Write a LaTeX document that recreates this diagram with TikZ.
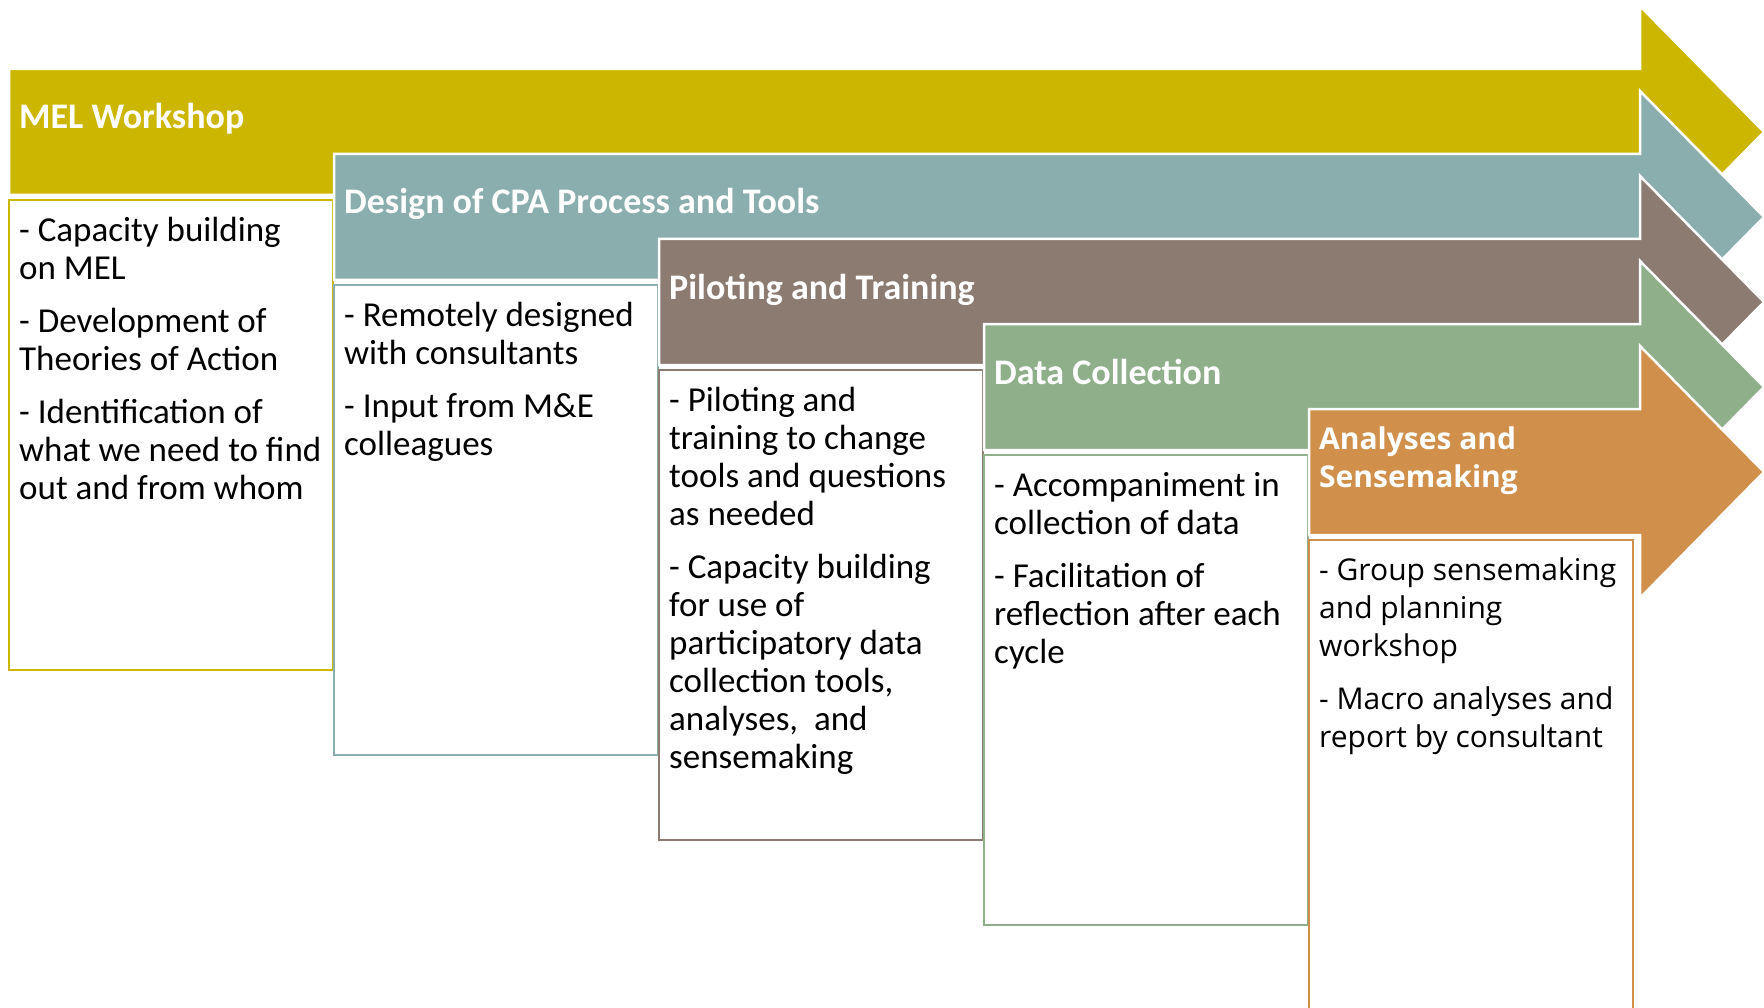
\documentclass[tikz,border=0pt]{standalone}
\usepackage{fontspec}
\setmainfont{Carlito}
\newfontfamily\openfont{Open Sans}
\definecolor{melgold}{RGB}{205,182,0}
\definecolor{designteal}{RGB}{138,173,173}
\definecolor{pilotbrown}{RGB}{139,123,112}
\definecolor{datagreen}{RGB}{143,175,139}
\definecolor{senseorange}{RGB}{208,143,74}
\tikzset{
  stagearrow/.style={draw=white, line width=2.5pt, line join=miter},
  stagebox/.style={fill=white, line width=2pt},
  stagetitle/.style={anchor=base west, inner sep=0pt, text=white, align=left,
    font=\fontsize{36}{38}\selectfont\bfseries},
  stagetext/.style={anchor=north west, inner sep=0pt, align=left,
    font=\fontsize{35}{38}\selectfont},
}

\begin{document}
\begin{tikzpicture}[x=1pt, y=-1pt]
    \useasboundingbox (0,0) rectangle (1764,1008);
    \fill[white] (0,0) rectangle (1764,1008);

    % MEL workshop
    \begin{scope}[shift={(9,69)}]
        \filldraw[stagearrow, fill=melgold] (0,0) -- (1631,0) -- (1631,-63)
            -- (1755,63) -- (1631,189) -- (1631,126) -- (0,126) -- cycle;
        \node[stagetitle] (meltitle) at (10,60) {MEL Workshop};
        \draw[stagebox, draw=melgold] (0,131) rectangle (324,601);
        \node[stagetext] (meltext) at (10,148) {- Capacity building\\ on MEL\\[15pt]
            - Development of\\ Theories of Action\\[15pt]
            - Identification of\\ what we need to find\\ out and from whom};
    \end{scope}

    % Design of CPA process
    \begin{scope}[shift={(334,154)}]
        \filldraw[stagearrow, fill=designteal] (0,0) -- (1306,0) -- (1306,-63)
            -- (1430,63) -- (1306,189) -- (1306,126) -- (0,126) -- cycle;
        \node[stagetitle] (designtitle) at (10,60) {Design of CPA Process and Tools};
        \draw[stagebox, draw=designteal] (0,131) rectangle (324,601);
        \node[stagetext] (designtext) at (10,148) {- Remotely designed\\ with consultants\\[15pt]
            - Input from M\&E\\ colleagues};
    \end{scope}

    % Piloting and training
    \begin{scope}[shift={(659,239)}]
        \filldraw[stagearrow, fill=pilotbrown] (0,0) -- (981,0) -- (981,-63)
            -- (1105,63) -- (981,189) -- (981,126) -- (0,126) -- cycle;
        \node[stagetitle] (pilottitle) at (10,60) {Piloting and Training};
        \draw[stagebox, draw=pilotbrown] (0,131) rectangle (324,601);
        \node[stagetext] (pilottext) at (10,148) {- Piloting and\\ training to change\\
            tools and questions\\ as needed\\[15pt]
            - Capacity building\\ for use of\\ participatory data\\
            collection tools,\\ analyses,~ and\\ sensemaking};
    \end{scope}

    % Data collection
    \begin{scope}[shift={(984,324)}]
        \filldraw[stagearrow, fill=datagreen] (0,0) -- (656,0) -- (656,-63)
            -- (780,63) -- (656,189) -- (656,126) -- (0,126) -- cycle;
        \node[stagetitle] (datatitle) at (10,60) {Data Collection};
        \draw[stagebox, draw=datagreen] (0,131) rectangle (324,601);
        \node[stagetext] (datatext) at (10,148) {- Accompaniment in\\ collection of data\\[15pt]
            - Facilitation of\\ reflection after each\\ cycle};
    \end{scope}

    % Analyses and sensemaking
    \begin{scope}[shift={(1309,409)}]
        \filldraw[stagearrow, fill=senseorange] (0,0) -- (331,0) -- (331,-63)
            -- (455,63) -- (331,189) -- (331,126) -- (0,126) -- cycle;
        \node[stagetitle, font=\fontsize{30}{38}\selectfont\openfont\bfseries]
            (sensetitle) at (10,78) {Analyses and\\ Sensemaking};
        \draw[stagebox, draw=senseorange] (0,131) rectangle (324,601);
        \node[stagetext, font=\fontsize{30}{38}\selectfont\openfont]
            (sensetext) at (10,149) {- Group sensemaking\\ and planning\\ workshop\\[15pt]
            - Macro analyses and\\ report by consultant};
    \end{scope}
\end{tikzpicture}
\end{document}
